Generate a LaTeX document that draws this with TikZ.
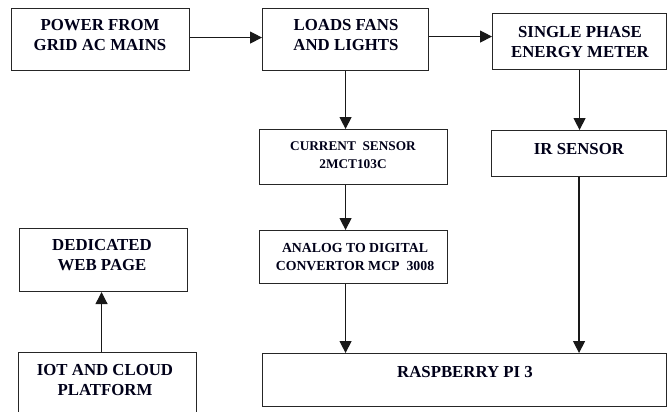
\documentclass[tikz,border=0pt]{standalone}
\usepackage{fontspec}
\setmainfont{Liberation Serif}
\usetikzlibrary{arrows.meta}
\tikzset{
  box/.style={draw=black!85, line width=1.1pt, anchor=north west, inner sep=0pt},
  big/.style={font=\fontsize{16.8}{20}\selectfont\bfseries, align=center, text=black!90!blue, inner sep=0pt},
  small/.style={font=\fontsize{13.8}{18}\selectfont\bfseries, align=center, text=black!90!blue, inner sep=0pt},
  arr/.style={line width=1.2pt, draw=black!90, -{Triangle[length=12pt,width=12pt]}},
}
\begin{document}
\begin{tikzpicture}[x=1pt,y=-1pt]
\useasboundingbox (0,0) rectangle (667,412);
\fill[white] (0,0) rectangle (667,412);
\begin{scope}
\clip (0,0) rectangle (667,412);
% boxes
\node[box, minimum width=178pt, minimum height=62pt] (power) at (11,8) {};
\node[box, minimum width=166pt, minimum height=62pt] (loads) at (262,8) {};
\node[box, minimum width=174pt, minimum height=56pt] (single) at (492,13) {};
\node[box, minimum width=188pt, minimum height=55pt] (current) at (259,129) {};
\node[box, minimum width=175pt, minimum height=46pt] (ir) at (491,130) {};
\node[box, minimum width=188pt, minimum height=53pt] (adc) at (259,230) {};
\node[box, minimum width=168pt, minimum height=63pt] (web) at (19,228) {};
\node[box, minimum width=404pt, minimum height=53pt] (rasp) at (262,353) {};
\node[box, minimum width=178pt, minimum height=70pt] (iot) at (18,352) {};
% labels
\node[big] (tpower) at (100,35) {POWER FROM\\GRID AC MAINS};
\node[big] (tloads) at (346,35) {LOADS FANS\\AND LIGHTS};
\node[big] (tsingle) at (580,42) {SINGLE PHASE\\ENERGY METER};
\node[small, font=\fontsize{13.3}{18}\selectfont\bfseries] (tcurrent) at (353,155) {CURRENT\ \ SENSOR\\2MCT103C};
\node[big] (tir) at (579,149) {IR SENSOR};
\node[small] (tadc) at (355,257) {ANALOG TO DIGITAL\\CONVERTOR MCP\ \ 3008};
\node[big] (tweb) at (102,255) {DEDICATED\\WEB PAGE};
\node[big] (trasp) at (465,372) {RASPBERRY PI 3};
\node[big] (tiot) at (105,380) {IOT AND CLOUD\\PLATFORM};
% connectors
\draw[arr] ([yshift=2pt]power.east) -- ([yshift=2pt]power.east -| loads.west);
\draw[arr] ([yshift=3pt]loads.east) -- ([yshift=3pt]loads.east -| single.west);
\draw[arr] (loads.south) -- (loads.south |- current.north);
\draw[arr] (current.south -| loads.south) -- (loads.south |- adc.north);
\draw[arr] (adc.south -| loads.south) -- (loads.south |- rasp.north);
\draw[arr] (single.south) -- (single.south |- ir.north);
\draw[arr] (ir.south) -- (ir.south |- rasp.north);
\draw[arr] ([xshift=-2pt]web.south |- iot.north) -- ([xshift=-2pt]web.south);
\end{scope}
\end{tikzpicture}
\end{document}
